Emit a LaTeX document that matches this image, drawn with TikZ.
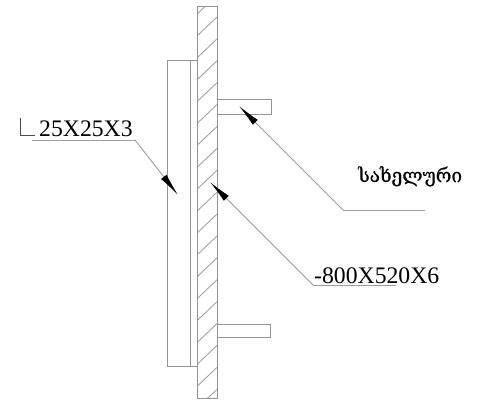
\documentclass[tikz,border=0pt]{standalone}
\usepackage{fontspec}
\setmainfont{Liberation Serif}
\newfontfamily\geofont[FakeBold=0.6]{DejaVu Serif}
\usetikzlibrary{arrows.meta}
\tikzset{
  part/.style={draw=black!42,line width=1pt},
  hatchline/.style={draw=black!36,line width=.9pt},
  leader/.style={draw=black!38,line width=.9pt,-{Latex[length=23pt,width=7pt,black]}},
  leaderplain/.style={draw=black!38,line width=.9pt},
  lbl/.style={inner sep=0pt,anchor=base west,text=black,font=\fontsize{23.7}{26}\selectfont}
}
\begin{document}
\begin{tikzpicture}[x=1pt,y=-1pt]
\useasboundingbox (0,0) rectangle (482,400);
\fill[white] (0,0) rectangle (482,400);
% hatching of the plate
\begin{scope}
\clip (197,6) rectangle (217,398);
\foreach \k in {-1,...,17}{
  \draw[hatchline] (197,{36+21.9*\k}) -- (217,{17+21.9*\k});
}
\end{scope}
\draw[part] (197,6) rectangle (217,398);
% angle
\draw[part] (197,60) -- (167,60) -- (167,366) -- (197,366);
\draw[part] (190,60) -- (190,366);
% brackets
\draw[part] (217,99) rectangle (271,114);
\draw[part] (217,324) rectangle (270,337);
% leaders
\coordinate (a0) at (32,140); \coordinate (a1) at (135,140); \coordinate (a2) at (178,195);
\coordinate (b0) at (425,210); \coordinate (b1) at (343,210); \coordinate (b2) at (239,106);
\coordinate (c0) at (396,285); \coordinate (c1) at (313,285); \coordinate (c2) at (210,182);
\draw[leaderplain] (a0) -- (a1); \draw[leader] (a1) -- (a2);
\draw[leaderplain] (b0) -- (b1); \draw[leader] (b1) -- (b2);
\draw[leaderplain] (c0) -- (c1); \draw[leader] (c1) -- (c2);
% labels
\draw[draw=black!70,line width=.9pt] (20.5,118) -- (20.5,135) -- (35,135);
\node[lbl] (t1) at (39,136) {25X25X3};
\node[lbl] (t3) at (314,283) {-800X520X6};
\node[lbl,font=\geofont\fontsize{19}{22}\selectfont] (t2) at (358,182) {სახელური};
\end{tikzpicture}
\end{document}
